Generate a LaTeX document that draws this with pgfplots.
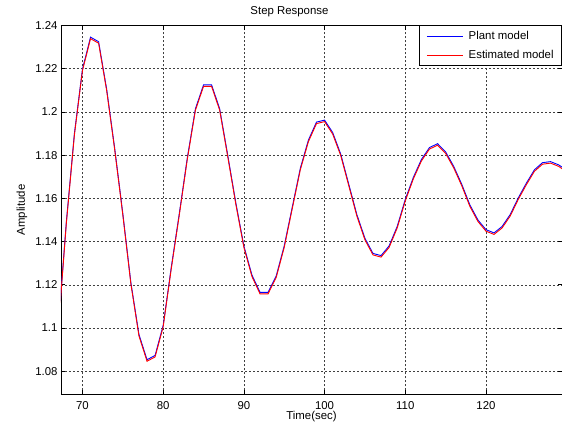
\documentclass[border=0pt]{standalone}
\usepackage{fontspec}
\setmainfont{Liberation Sans}
\usepackage{pgfplots}
\usepackage{pgfplotstable}
\pgfplotsset{compat=1.18}

% step response, sampled every 1 s (plant vs. estimated)
\pgfplotstableread{
t plant est
67 1.1000 1.0993
68 1.1490 1.1483
69 1.1900 1.1893
70 1.2198 1.2191
71 1.2346 1.2339
72 1.2325 1.2318
73 1.2105 1.2098
74 1.1830 1.1823
75 1.1530 1.1523
76 1.1210 1.1203
77 1.0970 1.0963
78 1.0853 1.0846
79 1.0873 1.0866
80 1.1012 1.1005
81 1.1280 1.1273
82 1.1530 1.1523
83 1.1790 1.1783
84 1.2015 1.2008
85 1.2125 1.2118
86 1.2125 1.2118
87 1.2015 1.2008
88 1.1800 1.1793
89 1.1580 1.1573
90 1.1380 1.1373
91 1.1245 1.1238
92 1.1165 1.1158
93 1.1165 1.1158
94 1.1240 1.1233
95 1.1380 1.1373
96 1.1560 1.1553
97 1.1740 1.1733
98 1.1870 1.1863
99 1.1953 1.1946
100 1.1962 1.1955
101 1.1905 1.1898
102 1.1805 1.1798
103 1.1665 1.1658
104 1.1525 1.1518
105 1.1415 1.1408
106 1.1345 1.1338
107 1.1335 1.1328
108 1.1380 1.1373
109 1.1470 1.1463
110 1.1595 1.1588
111 1.1697 1.1690
112 1.1780 1.1773
113 1.1835 1.1828
114 1.1853 1.1846
115 1.1815 1.1808
116 1.1748 1.1741
117 1.1665 1.1658
118 1.1570 1.1563
119 1.1500 1.1493
120 1.1455 1.1448
121 1.1440 1.1433
122 1.1470 1.1463
123 1.1525 1.1518
124 1.1602 1.1595
125 1.1670 1.1663
126 1.1732 1.1725
127 1.1765 1.1758
128 1.1770 1.1763
129 1.1755 1.1748
130 1.1730 1.1723
}\stepdata

\newcommand{\mfont}{\fontsize{11.4}{13.5}\selectfont}

\begin{document}
\begin{tikzpicture}
\begin{axis}[
    scale only axis,
    width=501pt, height=368.8pt,
    xmin=67.34, xmax=129.42,
    ymin=1.0693, ymax=1.24,
    xtick={70,80,90,100,110,120},
    xticklabels={70,80,90,100,110,120},
    ytick={1.08,1.1,1.12,1.14,1.16,1.18,1.2,1.22,1.24},
    yticklabels={1.08,1.1,1.12,1.14,1.16,1.18,1.2,1.22,1.24},
    tick label style={font=\mfont},
    xticklabel style={anchor=base, inner sep=0pt, yshift=-15.5pt},
    tick align=inside,
    major tick length=4.5pt,
    every tick/.style={black, line width=0.6pt},
    axis line style={line width=0.9pt},
    grid=major,
    major grid style={black!75, line width=0.5pt, dash pattern=on 2pt off 2pt},
    every axis title shift=0pt,
    title={Step Response},
    title style={font=\mfont, at={(axis description cs:0.456,1)}, anchor=base, yshift=10.5pt},
    xlabel={Time(sec)},
    xlabel style={font=\mfont, inner sep=0pt, at={(axis description cs:0.5,0)}, anchor=center, yshift=-22.5pt},
    ylabel={Amplitude},
    ylabel style={font=\mfont, at={(axis description cs:0,0.5)}, anchor=center, yshift=39pt},
    legend cell align=left,
    legend image code/.code={\draw[#1] (0pt,0pt) -- (36pt,0pt);},
    legend style={font=\mfont, at={(1,1)}, anchor=north east, draw=black,
        line width=0.8pt, fill=white, inner xsep=7pt, inner ysep=4pt,
        row sep=6pt, column sep=4.4pt,
        nodes={inner sep=1pt, text height=8.5pt, text depth=2.5pt}},
]
\addplot[blue, line width=0.9pt] table[x=t, y=plant] {\stepdata};
\addlegendentry{Plant model}
\addplot[red, line width=0.9pt] table[x=t, y=est] {\stepdata};
\addlegendentry{Estimated model}
\end{axis}
\pgfresetboundingbox
\path ([shift={(-61pt,-36.7pt)}]current axis.south west) rectangle ([shift={(0pt,25.5pt)}]current axis.north east);
\end{tikzpicture}
\end{document}
